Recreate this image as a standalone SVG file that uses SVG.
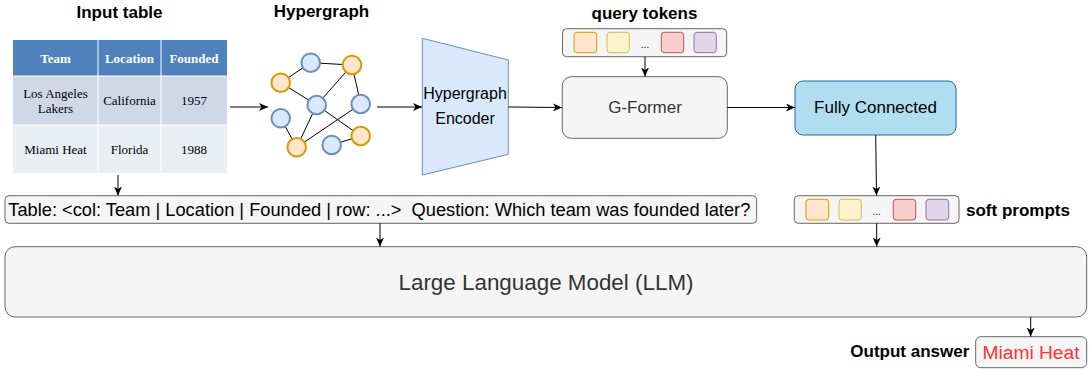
<svg xmlns="http://www.w3.org/2000/svg" width="1089" height="369" viewBox="0 0 1089 369">
<style>
.lbl{font-family:"Liberation Sans",Arial,sans-serif;font-weight:bold;font-size:17px;fill:#000}
.sans{font-family:"Liberation Sans",Arial,sans-serif}
.serif{font-family:"Liberation Serif","Times New Roman",serif;font-size:13px}
.box{fill:#f5f5f5;stroke:#666;stroke-width:1}
.edge{stroke:#000;stroke-width:1;fill:none}
.hb{fill:#dae8fc;stroke:#6c8ebf;stroke-width:2}
.ho{fill:#ffe6cc;stroke:#d79b00;stroke-width:2}
.t1{fill:#ffe6cc;stroke:#d79b00}
.t2{fill:#fff2cc;stroke:#d6b656}
.t3{fill:#f8cecc;stroke:#b85450}
.t4{fill:#e1d5e7;stroke:#9673a6}
</style>
<defs>
<marker id="arr" markerWidth="10" markerHeight="8" refX="9" refY="4" orient="auto" markerUnits="userSpaceOnUse">
<path d="M0,0 L9,4 L0,8 L2.5,4 Z" fill="#000"/>
</marker>
</defs>
<rect width="1089" height="369" fill="#fff"/>

<g id="input-table">
<text class="lbl" x="119.5" y="17.5" text-anchor="middle">Input table</text>
<rect x="13" y="40" width="214" height="36" fill="#4f81bd"/>
<rect x="13" y="76" width="214" height="49" fill="#d0d8e8"/>
<rect x="13" y="125" width="214" height="48" fill="#e9edf4"/>
<g stroke="#fff" stroke-width="1">
<line x1="98" y1="40" x2="98" y2="173"/>
<line x1="161" y1="40" x2="161" y2="173"/>
<line x1="13" y1="76" x2="227" y2="76"/>
<line x1="13" y1="125" x2="227" y2="125"/>
</g>
<g class="serif" text-anchor="middle">
<text x="55.5" y="62.5" font-weight="bold" fill="#fff">Team</text>
<text x="129.5" y="62.5" font-weight="bold" fill="#fff">Location</text>
<text x="194" y="62.5" font-weight="bold" fill="#fff">Founded</text>
<text x="55.5" y="97.5">Los Angeles</text>
<text x="55.5" y="112.5">Lakers</text>
<text x="129.5" y="105">California</text>
<text x="194" y="105">1957</text>
<text x="55.5" y="154">Miami Heat</text>
<text x="129.5" y="154">Florida</text>
<text x="194" y="154">1988</text>
</g>
</g>

<g id="hypergraph">
<text class="lbl" x="321.5" y="17" text-anchor="middle">Hypergraph</text>
<g stroke="#000" stroke-width="1">
<line x1="310.7" y1="62.7" x2="352" y2="65"/>
<line x1="310.7" y1="62.7" x2="280.7" y2="82.7"/>
<line x1="280.7" y1="82.7" x2="316.7" y2="105"/>
<line x1="316.7" y1="105" x2="352" y2="65"/>
<line x1="352" y1="65" x2="360.7" y2="104"/>
<line x1="316.7" y1="105" x2="296.7" y2="147.3"/>
<line x1="316.7" y1="105" x2="360.7" y2="136"/>
<line x1="360.7" y1="104" x2="296.7" y2="147.3"/>
<line x1="280.7" y1="118.3" x2="296.7" y2="147.3"/>
<line x1="331.7" y1="145" x2="360.7" y2="136"/>
</g>
<circle class="hb" cx="310.7" cy="62.7" r="9.3"/>
<circle class="ho" cx="352" cy="65" r="9.3"/>
<circle class="ho" cx="280.7" cy="82.7" r="9.3"/>
<circle class="hb" cx="316.7" cy="105" r="9.3"/>
<circle class="hb" cx="360.7" cy="104" r="9.3"/>
<circle class="hb" cx="280.7" cy="118.3" r="9.3"/>
<circle class="ho" cx="296.7" cy="147.3" r="9.3"/>
<circle class="ho" cx="360.7" cy="136" r="9.3"/>
<circle class="hb" cx="331.7" cy="145" r="9.3"/>
</g>

<g id="encoder">
<polygon points="422.3,38.3 508.3,60 508.3,154.3 422.3,175" fill="#dae8fc" stroke="#6c8ebf" stroke-width="1"/>
<text class="sans" x="465" y="99" font-size="16" text-anchor="middle" fill="#000">Hypergraph</text>
<text class="sans" x="465" y="124" font-size="16" text-anchor="middle" fill="#000">Encoder</text>
</g>

<g id="query-tokens">
<text class="lbl" x="644.5" y="19" text-anchor="middle">query tokens</text>
<rect class="box" x="562.5" y="28.7" width="164.2" height="28" rx="4"/>
<rect class="t1" x="574" y="32.3" width="22.7" height="20.4" rx="3"/>
<rect class="t2" x="607" y="32.3" width="22.3" height="20.4" rx="3"/>
<text class="sans" x="645" y="48" font-size="10" text-anchor="middle" fill="#000">...</text>
<rect class="t3" x="661.3" y="32.3" width="22.4" height="20.4" rx="3"/>
<rect class="t4" x="694" y="32.3" width="22.3" height="20.4" rx="3"/>
</g>

<g id="g-former">
<rect class="box" x="562.3" y="76.7" width="165" height="61.6" rx="9"/>
<text class="sans" x="645" y="113.3" font-size="17" text-anchor="middle" fill="#333">G-Former</text>
</g>

<g id="fully-connected">
<rect x="795" y="81" width="161" height="54" rx="8" fill="#b1ddf0" stroke="#10739e" stroke-width="1"/>
<text class="sans" x="875.5" y="113.3" font-size="17" text-anchor="middle" fill="#000">Fully Connected</text>
</g>

<g id="soft-prompts">
<rect class="box" x="794.3" y="195.7" width="164.7" height="27.6" rx="4"/>
<rect class="t1" x="806" y="199.3" width="22.7" height="20.7" rx="3"/>
<rect class="t2" x="839" y="199.3" width="22.3" height="20.7" rx="3"/>
<text class="sans" x="876.7" y="215" font-size="10" text-anchor="middle" fill="#000">...</text>
<rect class="t3" x="893.3" y="199.3" width="22.4" height="20.7" rx="3"/>
<rect class="t4" x="926" y="199.3" width="22.7" height="20.7" rx="3"/>
<text class="lbl" x="966" y="215.5">soft prompts</text>
</g>

<g id="prompt-text">
<rect class="box" x="5" y="195.7" width="751.7" height="27.6" rx="4"/>
<text class="sans" x="8.3" y="215.5" font-size="18.2" fill="#000" textLength="742" lengthAdjust="spacingAndGlyphs" xml:space="preserve">Table: &lt;col: Team | Location | Founded | row: ...&gt;  Question: Which team was founded later?</text>
</g>

<g id="llm">
<rect class="box" x="5" y="246.7" width="1081.7" height="70.3" rx="10"/>
<text class="sans" x="546" y="290" font-size="22.4" text-anchor="middle" fill="#333">Large Language Model (LLM)</text>
</g>

<g id="output">
<text class="lbl" x="969.3" y="357" text-anchor="end">Output answer</text>
<rect class="box" x="975.7" y="336.7" width="111" height="31" rx="5"/>
<text class="sans" x="1031" y="358.5" font-size="19.2" text-anchor="middle" fill="#ff3333">Miami Heat</text>
</g>

<g id="connectors">
<line class="edge" x1="230" y1="107" x2="268" y2="107" marker-end="url(#arr)"/>
<line class="edge" x1="377" y1="107" x2="422" y2="107" marker-end="url(#arr)"/>
<line class="edge" x1="508.3" y1="107" x2="562" y2="107.5" marker-end="url(#arr)"/>
<line class="edge" x1="645" y1="56.7" x2="645" y2="76.5" marker-end="url(#arr)"/>
<line class="edge" x1="727.3" y1="107.5" x2="795" y2="107.5" marker-end="url(#arr)"/>
<line class="edge" x1="875.7" y1="135" x2="876.5" y2="195.5" marker-end="url(#arr)"/>
<line class="edge" x1="118" y1="175" x2="118" y2="195.5" marker-end="url(#arr)"/>
<line class="edge" x1="380" y1="223.3" x2="380" y2="246.5" marker-end="url(#arr)"/>
<line class="edge" x1="876.7" y1="223.3" x2="876.7" y2="246.5" marker-end="url(#arr)"/>
<line class="edge" x1="1030.7" y1="317" x2="1030.7" y2="336.5" marker-end="url(#arr)"/>
</g>
</svg>
